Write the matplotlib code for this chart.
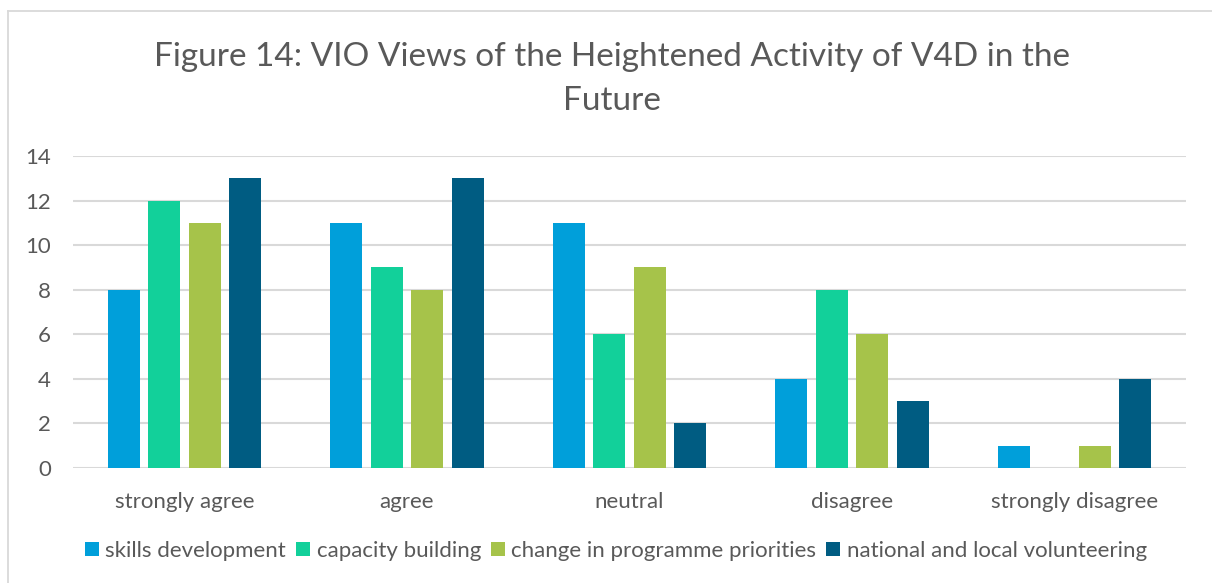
import matplotlib
matplotlib.use("Agg")
import matplotlib.pyplot as plt
from matplotlib.lines import Line2D
import numpy as np

categories = ["strongly agree", "agree", "neutral", "disagree", "strongly disagree"]
series_names = ["skills development", "capacity building",
                "change in programme priorities", "national and local volunteering"]
skills = [8, 11, 11, 4, 1]
capacity = [12, 9, 6, 8, 0]
priorities = [11, 8, 9, 6, 1]
national = [13, 13, 2, 3, 4]
colors = ["#009FDA", "#12D09A", "#A6C34A", "#005C82"]
yticks = [0, 2, 4, 6, 8, 10, 12, 14]

plt.rcParams['font.family'] = ['Lato', 'DejaVu Sans']
txt = "#595959"

fig = plt.figure(figsize=(12.12, 5.83), dpi=100)
ax = fig.add_axes([73/1212, 1-468/583, (1186-73)/1212, (468-156)/583])

x = np.arange(len(categories))
w = 0.144
step = 0.182
allv = [skills, capacity, priorities, national]
for i, (vals, c, n) in enumerate(zip(allv, colors, series_names)):
    ax.bar(x + (i-1.5)*step, vals, width=w, color=c, label=n, zorder=3)

ax.set_xlim(-0.5, len(categories)-0.5)
ax.set_ylim(0, 14)
ax.set_yticks(yticks)
ax.set_yticklabels([str(v) for v in yticks])
ax.set_xticks(x)
ax.set_xticklabels(categories)
ax.yaxis.grid(True, color="#D9D9D9", linewidth=1.5, zorder=0)
ax.set_axisbelow(True)
for s in ax.spines.values():
    s.set_visible(False)
ax.tick_params(axis='both', length=0, labelsize=16, colors=txt)
ax.tick_params(axis='x', pad=17)
ax.tick_params(axis='y', pad=16)

fig.suptitle("Figure 14: VIO Views of the Heightened Activity of V4D in the\nFuture",
             x=0.505, y=0.928, fontsize=24, color=txt, linespacing=1.6, va='top')

leg = fig.legend(loc='center', bbox_to_anchor=(616/1212, 1-551/583), ncol=4,
                 frameon=False, fontsize=16, handlelength=0.62, handleheight=0.62,
                 handletextpad=0.3, columnspacing=0.45, labelcolor=txt)

fig.add_artist(Line2D([8/1212, 8/1212], [0, 1-11/583], transform=fig.transFigure,
                      color="#D9D9D9", linewidth=1.3))
fig.add_artist(Line2D([8/1212, 1], [1-11/583, 1-11/583], transform=fig.transFigure,
                      color="#D9D9D9", linewidth=1.3))

fig.savefig("out.png", dpi=100)
